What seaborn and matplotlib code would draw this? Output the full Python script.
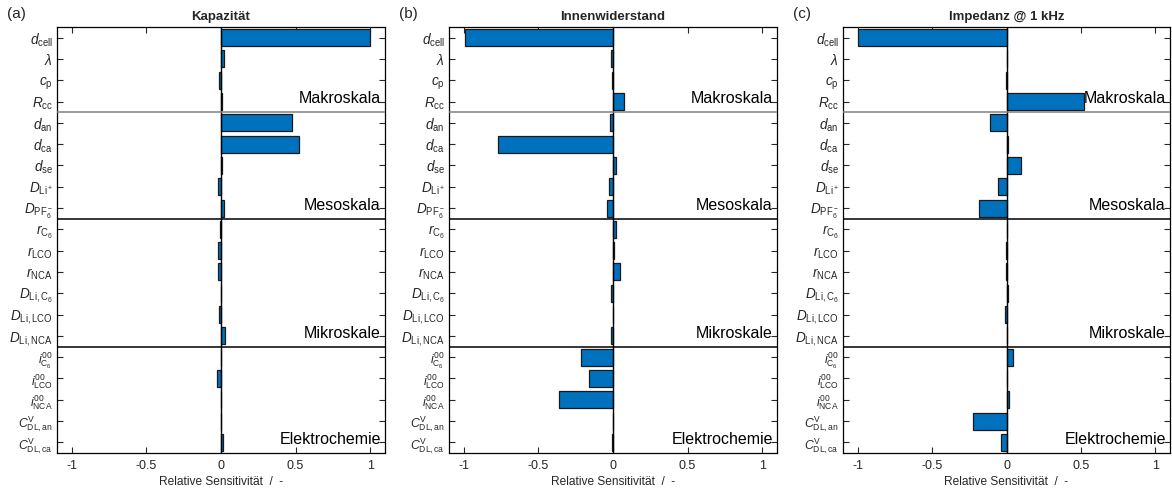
import matplotlib
matplotlib.use("Agg")
import matplotlib.pyplot as plt
import seaborn as sns
import pandas as pd

# Parameter names (top to bottom)
params = [
    r"$d_\mathrm{cell}$", r"$\lambda$", r"$c_\mathrm{p}$", r"$R_\mathrm{cc}$",
    r"$d_\mathrm{an}$", r"$d_\mathrm{ca}$", r"$d_\mathrm{se}$",
    r"$D_{\mathrm{Li}^+}$", r"$D_{\mathrm{PF}_6^-}$",
    r"$r_{\mathrm{C}_6}$", r"$r_\mathrm{LCO}$", r"$r_\mathrm{NCA}$",
    r"$D_{\mathrm{Li,C}_6}$", r"$D_\mathrm{Li,LCO}$", r"$D_\mathrm{Li,NCA}$",
    r"$i^{00}_{\mathrm{C}_6}$", r"$i^{00}_\mathrm{LCO}$", r"$i^{00}_\mathrm{NCA}$",
    r"$C^\mathrm{V}_\mathrm{DL,an}$", r"$C^\mathrm{V}_\mathrm{DL,ca}$",
]

# Relative sensitivities
kapazitaet = [1.0, 0.02, -0.015, 0.005,
              0.478, 0.52, 0.01, -0.018, 0.022,
              -0.004, -0.018, -0.018, 0.003, -0.013, 0.027,
              0.002, -0.025, 0.001, 0.001, 0.013]
innenwiderstand = [-0.99, -0.013, -0.005, 0.076,
                   -0.02, -0.774, 0.022, -0.027, -0.04,
                   0.018, 0.008, 0.047, -0.013, 0.001, -0.016,
                   -0.215, -0.161, -0.364, -0.002, -0.005]
impedanz = [-1.0, 0.001, -0.002, 0.523,
            -0.114, 0.013, 0.10, -0.06, -0.183,
            0.003, -0.004, -0.006, 0.013, -0.013, 0.005,
            0.047, 0.005, 0.015, -0.224, -0.04]

titles = ["Kapazität", "Innenwiderstand", "Impedanz @ 1 kHz"]
panel_tags = ["(a)", "(b)", "(c)"]
group_names = ["Makroskala", "Mesoskala", "Mikroskale", "Elektrochemie"]
group_last_row = [3, 8, 14, 19]
xticks = [-1, -0.5, 0, 0.5, 1]
xticklabels = ["-1", "-0.5", "0", "0.5", "1"]

sns.set_theme(style="ticks")
plt.rcParams["font.family"] = ["Liberation Sans", "DejaVu Sans"]
plt.rcParams["mathtext.fontset"] = "custom"
plt.rcParams["mathtext.rm"] = "Liberation Sans"
plt.rcParams["mathtext.it"] = "Liberation Sans:italic"
plt.rcParams["mathtext.bf"] = "Liberation Sans:bold"

bar_color = "#0072BD"
text_gray = "#262626"

fig = plt.figure(figsize=(11.72, 4.92), dpi=100)
lefts = [57, 449, 843]
widths = [328, 328, 327]
W, H = 1172, 492

for k, values in enumerate([kapazitaet, innenwiderstand, impedanz]):
    ax = fig.add_axes([lefts[k] / W, (H - 453) / H, widths[k] / W, 426 / H])
    df = pd.DataFrame({"param": params, "value": values})
    sns.barplot(data=df, x="value", y="param", orient="h", color=bar_color,
                saturation=1, width=0.8, edgecolor="#1a1a1a", linewidth=0.9,
                ax=ax, zorder=3)
    ax.axvline(0, color="black", lw=1.0, zorder=4)
    ax.set_xlim(-1.1, 1.1)
    ax.set_ylim(19.5, -0.5)
    ax.set_xticks(xticks)
    ax.set_xticklabels(xticklabels)
    ax.tick_params(axis="both", direction="in", top=True, right=True,
                   length=4, width=0.8, colors=text_gray)
    ax.tick_params(axis="x", labelsize=9, pad=5)
    ax.tick_params(axis="y", labelsize=9.8, pad=3)
    # the stacked super/subscript labels get a slightly smaller size
    for lbl in ax.get_yticklabels()[15:]:
        lbl.set_fontsize(8.8)
    for sp in ax.spines.values():
        sp.set_visible(True)
        sp.set_color("black")
        sp.set_linewidth(0.9)
    ax.set_ylabel("")
    ax.set_xlabel("Relative Sensitivität  /  -", fontsize=8.6, color=text_gray,
                  labelpad=3)
    ax.set_title(titles[k], fontsize=9.5, fontweight="bold", pad=5)

    # Group separators and group names
    for g, last in enumerate(group_last_row):
        if last < 19:
            ax.axhline(last + 0.5, color="#808080" if g == 0 else "black",
                       lw=1.1, zorder=5)
        ax.text(1.072, last - 0.12, group_names[g], ha="right", va="center",
                fontsize=11.5, color="black", zorder=6)

    fig.text((lefts[k] - 50) / W, 1 - 14 / H, panel_tags[k], fontsize=11,
             ha="left", va="center")

fig.savefig("out.png", dpi=100)
